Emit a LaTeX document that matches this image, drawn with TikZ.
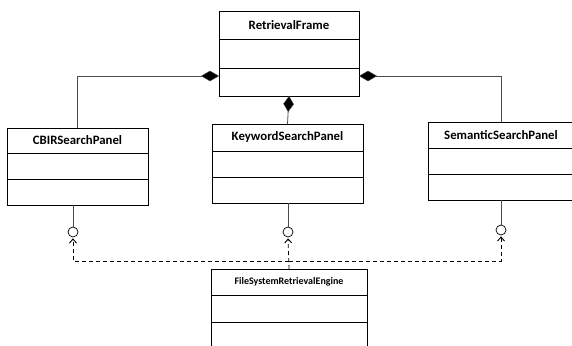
\documentclass[tikz,border=0pt]{standalone}
\usepackage{fontspec}
\setmainfont{Carlito}
\usetikzlibrary{arrows.meta,positioning,calc}

\tikzset{
  comp/.style={draw=black, line width=0.9pt, rectangle, inner sep=0pt, outer sep=0pt,
               font=\bfseries\fontsize{12.8}{14}\selectfont},
  below0/.style={below=0pt of #1},
  assoc/.style={draw=black!70, line width=0.8pt},
  owns/.style={assoc, -{Diamond[length=#1,width=10.5pt,fill=black,line width=0.4pt]}},
  iface/.style={circle, draw=black, line width=0.7pt, fill=white, minimum size=10pt, inner sep=0pt},
  dep/.style={draw=black, line width=0.8pt, dash pattern=on 4pt off 3pt},
  deparrow/.style={dep, -{Straight Barb[length=4pt,width=7pt,line width=0.9pt]}, shorten >=1pt}
}

\begin{document}
\begin{tikzpicture}[x=1pt, y=-1pt]
  \clip (0,0) rectangle (572,345);
  \fill[white] (0,0) rectangle (572,345);

  % RetrievalFrame
  \node[comp, minimum width=140pt, minimum height=28pt] (rf1) at (289,25) {RetrievalFrame};
  \node[comp, minimum width=140pt, minimum height=29pt, below0=rf1] (rf2) {};
  \node[comp, minimum width=140pt, minimum height=28pt, below0=rf2] (rf3) {};

  % CBIRSearchPanel
  \node[comp, minimum width=141pt, minimum height=25pt] (cb1) at (77.5,140.5) {CBIRSearchPanel};
  \node[comp, minimum width=141pt, minimum height=26pt, below0=cb1] (cb2) {};
  \node[comp, minimum width=141pt, minimum height=26pt, below0=cb2] (cb3) {};

  % KeywordSearchPanel
  \node[comp, minimum width=151pt, minimum height=27pt] (kw1) at (287.5,137.5) {KeywordSearchPanel};
  \node[comp, minimum width=151pt, minimum height=26pt, below0=kw1] (kw2) {};
  \node[comp, minimum width=151pt, minimum height=26pt, below0=kw2] (kw3) {};

  % SemanticSearchPanel
  \node[comp, minimum width=146pt, minimum height=26pt] (se1) at (501,135) {SemanticSearchPanel};
  \node[comp, minimum width=146pt, minimum height=26pt, below0=se1] (se2) {};
  \node[comp, minimum width=146pt, minimum height=26pt, below0=se2] (se3) {};

  % FileSystemRetrievalEngine
  \node[comp, minimum width=156pt, minimum height=26pt, font=\bfseries\fontsize{10}{12}\selectfont] (en1) at (289,282) {FileSystemRetrievalEngine};
  \node[comp, minimum width=156pt, minimum height=27pt, below0=en1] (en2) {};
  \node[comp, minimum width=156pt, minimum height=27pt, below0=en2] (en3) {};

  % composition links to RetrievalFrame
  \draw[owns=18pt] (cb1.north) |- ([yshift=6pt]rf3.west);
  \draw[owns=16pt] (kw1.north) -- (rf3.south);
  \draw[owns=18pt] (se1.north) |- ([yshift=6pt]rf3.east);

  % provided interfaces (lollipops)
  \node[iface] (i1) at (73,232) {};
  \node[iface] (i2) at (288,232) {};
  \node[iface] (i3) at (501,230) {};
  \draw[assoc] (i1 |- cb3.south) -- (i1.north);
  \draw[assoc] (i2 |- kw3.south) -- (i2.north);
  \draw[assoc] (i3 |- se3.south) -- (i3.north);

  % dependencies of the engine on the interfaces
  \coordinate (j) at ([yshift=8pt]en1.north);
  \draw[deparrow] (en1.north) -- (i2.south);
  \draw[deparrow] (j) -| (i1.south);
  \draw[deparrow] (j) -| (i3.south);
\end{tikzpicture}
\end{document}
